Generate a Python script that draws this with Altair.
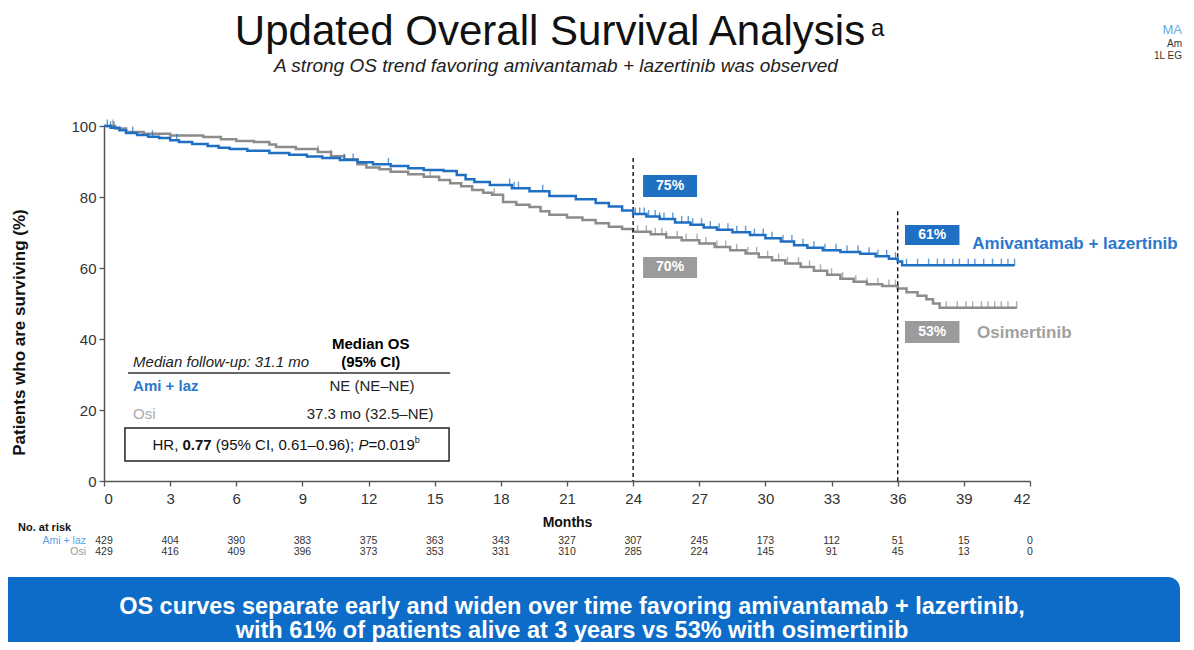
import altair as alt
import pandas as pd

FONT = "Liberation Sans"
BLUE = "#1f6fc2"
GRAY = "#8c8c8c"

# ---------------- data ----------------
ami_t = [0, 0.3, 0.7, 1.0, 1.5, 2.0, 2.5, 3.0, 3.4, 4.0, 4.7, 5.2, 5.7, 6.5, 7.5, 8.4, 9.2, 9.9,
         10.7, 11.5, 12.2, 13.0, 13.8, 14.5, 15.4, 16.0, 16.4, 16.8, 17.5, 18.5, 19.3, 20.2, 21.4,
         22.3, 22.9, 23.5, 24.0, 24.6, 25.2, 25.9, 26.6, 27.2, 27.8, 28.5, 29.3, 30.0, 30.7, 31.3,
         31.9, 32.6, 33.4, 34.3, 35.0, 35.6, 36.0, 36.2, 41.3]
ami_s = [100, 99.5, 98.8, 98.0, 97.5, 97.0, 96.6, 96.0, 95.5, 94.9, 94.4, 93.9, 93.5, 93.0, 92.4,
         91.9, 91.4, 91.0, 90.4, 89.8, 89.2, 88.7, 88.1, 87.6, 87.3, 86.2, 85.0, 84.2, 83.4, 82.5,
         81.6, 80.3, 79.4, 78.3, 77.3, 76.2, 75.2, 74.5, 73.8, 72.8, 72.2, 71.4, 70.8, 70.1, 69.3,
         68.4, 67.5, 66.4, 65.7, 65.0, 64.5, 64.0, 63.3, 62.6, 61.8, 60.8, 60.8]

osi_t = [0, 0.5, 1.0, 1.8, 3.0, 4.5, 5.3, 6.0, 6.8, 7.5, 7.8, 8.7, 9.7, 10.3, 10.9, 11.5, 11.9,
         12.5, 13.0, 13.8, 14.5, 15.2, 15.7, 16.2, 16.7, 17.2, 17.6, 18.1, 18.7, 19.3, 19.8, 20.2,
         21.0, 21.7, 22.3, 22.9, 23.5, 24.0, 24.8, 25.5, 26.2, 27.0, 27.7, 28.4, 29.1, 29.7, 30.3,
         30.9, 31.6, 32.2, 32.8, 33.4, 34.0, 34.6, 35.3, 36.0, 36.4, 36.9, 37.3, 37.6, 37.9, 41.4]
osi_s = [100, 99.3, 98.3, 97.8, 97.3, 96.9, 96.3, 95.8, 95.5, 94.8, 94.1, 93.5, 92.7, 91.5, 90.6,
         89.2, 88.3, 87.8, 87.1, 86.4, 85.7, 84.8, 83.9, 83.0, 82.0, 81.2, 80.6, 78.6, 77.8, 77.2,
         76.0, 75.0, 74.2, 73.5, 72.6, 71.6, 71.0, 70.2, 69.5, 68.6, 67.8, 66.9, 65.9, 65.0, 64.1,
         63.0, 62.2, 61.3, 60.3, 59.2, 58.1, 57.0, 56.1, 55.4, 54.9, 54.2, 53.2, 52.2, 51.2, 50.0,
         48.8, 48.8]

ami_cens = [0.15, 0.3, 0.45, 1.3, 2.2, 3.3, 10.9, 11.3, 12.9, 18.4, 18.6, 18.8, 19.9, 24.1, 24.3,
            24.5, 24.7, 25.0, 25.2, 25.4, 25.8, 26.2, 26.5, 26.7, 27.1, 27.5, 27.9, 28.3, 28.7,
            29.1, 29.5, 29.9, 30.3, 30.8, 31.2, 31.7, 32.2, 32.7, 33.2, 33.7, 34.2, 34.7, 35.1,
            35.5, 35.9, 36.4, 36.9, 37.4, 37.8, 38.1, 38.5, 38.8, 39.2, 39.5, 39.9, 40.3, 40.7,
            41.0, 41.3]
osi_cens = [0.4, 9.7, 10.3, 13.0, 14.8, 17.7, 24.2, 24.6, 25.0, 25.3, 25.5, 26.0, 26.4, 26.9,
            27.3, 27.8, 28.2, 28.7, 29.2, 29.6, 30.1, 30.6, 31.0, 31.5, 32.0, 32.5, 33.0, 33.5,
            34.1, 34.6, 35.1, 35.6, 35.9, 38.2, 38.7, 39.1, 39.4, 39.8, 40.1, 40.4, 40.7, 41.0,
            41.4]

month_ticks = [0, 3, 6, 9, 12, 15, 18, 21, 24, 27, 30, 33, 36, 39, 42]
pct_ticks = [0, 20, 40, 60, 80, 100]
ami_risk = [429, 404, 390, 383, 375, 363, 343, 327, 307, 245, 173, 112, 51, 15, 0]
osi_risk = [429, 416, 409, 396, 373, 353, 331, 310, 285, 224, 145, 91, 45, 13, 0]

landmark_months = [24, 36]
landmark_top = [91, 76]

pct_text = ["75%", "70%", "61%", "53%"]
pct_x = [24.45, 24.45, 36.33, 36.33]
pct_x2 = [26.9, 26.9, 38.8, 38.8]
pct_y = [86.2, 63.1, 72.1, 45.1]
pct_y2 = [80.0, 57.2, 66.5, 38.9]
pct_arm = ["Ami", "Osi", "Ami", "Osi"]

# ---------------- scales / axes / helpers ----------------
xs = alt.Scale(domain=[0, 42], nice=False, zero=False)
ys = alt.Scale(domain=[0, 100], nice=False)
arm_color = alt.Scale(domain=["Ami", "Osi"], range=[BLUE, "#9b9b9b"])

axis_common = dict(domainColor="#555", domainWidth=1.5, tickColor="#555", tickWidth=1.3,
                   tickSize=5, labelFont=FONT, labelFontSize=15, labelColor="#333", grid=False,
                   titleFont=FONT, titleColor="#111", titleFontWeight="bold")
x_axis = alt.Axis(values=month_ticks, title="Months", labelPadding=5, titleFontSize=14,
                  titleY=34, **axis_common)
y_axis = alt.Axis(values=pct_ticks, title="Patients who are surviving (%)", labelPadding=3,
                  titleFontSize=17, titleX=-76, titleY=206, **axis_common)


def X(f):
    return alt.X(f, type="quantitative", scale=xs, axis=x_axis)


def Y(f):
    return alt.Y(f, type="quantitative", scale=ys, axis=y_axis)


one = pd.DataFrame({"k": [0]})


def ptxt(s, x, y, size, color="#000", weight="normal", style="normal", align="left",
         baseline="middle", font=FONT):
    return alt.Chart(one).mark_text(text=s, fontSize=size, color=color, fontWeight=weight,
                                    fontStyle=style, align=align, baseline=baseline,
                                    font=font).encode(x=alt.value(x), y=alt.value(y))


def dtxt(s, mx, my, size, color="#000", weight="normal", style="normal", align="left", dx=0,
         dy=0):
    df = pd.DataFrame({"x": [mx], "y": [my]})
    return alt.Chart(df).mark_text(text=s, fontSize=size, color=color, fontWeight=weight,
                                   fontStyle=style, align=align, baseline="middle", font=FONT,
                                   dx=dx, dy=dy).encode(x=X("x"), y=Y("y"))


# ---------------- curves ----------------
ami_df = pd.DataFrame({"t": ami_t, "s": ami_s})
osi_df = pd.DataFrame({"t": osi_t, "s": osi_s})

osi_line = alt.Chart(osi_df).mark_line(interpolate="step-after", strokeWidth=2.5,
                                       color=GRAY).encode(x=X("t"), y=Y("s"))
ami_line = alt.Chart(ami_df).mark_line(interpolate="step-after", strokeWidth=2.5,
                                       color=BLUE).encode(x=X("t"), y=Y("s"))


def cens_df(times, km):
    c = pd.DataFrame({"t": sorted(times)})
    return pd.merge_asof(c, km.sort_values("t"), on="t", direction="backward")


osi_ticks = alt.Chart(cens_df(osi_cens, osi_df)).mark_tick(
    orient="vertical", size=7, thickness=1.4, color=GRAY, yOffset=-3).encode(x=X("t"), y=Y("s"))
ami_ticks = alt.Chart(cens_df(ami_cens, ami_df)).mark_tick(
    orient="vertical", size=7, thickness=1.4, color=BLUE, yOffset=-3).encode(x=X("t"), y=Y("s"))

land = pd.DataFrame({"x": landmark_months, "top": landmark_top, "bot": [0, 0]})
landmarks = alt.Chart(land).mark_rule(color="#111", strokeWidth=1.4, strokeDash=[4, 3]).encode(
    x=X("x"), y=Y("top"), y2="bot")

pct = pd.DataFrame({"x": pct_x, "x2": pct_x2, "y": pct_y, "y2": pct_y2, "text": pct_text,
                    "arm": pct_arm})
pct["cx"] = [(a + b) / 2 for a, b in zip(pct_x, pct_x2)]
pct["cy"] = [(a + b) / 2 for a, b in zip(pct_y, pct_y2)]
pct_boxes = alt.Chart(pct).mark_rect().encode(
    x=X("x"), x2="x2", y=Y("y"), y2="y2",
    color=alt.Color("arm:N", scale=arm_color, legend=None))
pct_labels = alt.Chart(pct).mark_text(font=FONT, fontSize=14, fontWeight="bold",
                                      color="white").encode(x=X("cx"), y=Y("cy"), text="text:N")

arm_labels = [
    dtxt("Amivantamab + lazertinib", 39.38, 66.8, 17, color="#2a78cc", weight="bold"),
    dtxt("Osimertinib", 39.6, 41.7, 17, color="#a0a0a0", weight="bold"),
]

# ---------------- median OS box ----------------
legend_line = alt.Chart(pd.DataFrame({"x": [1.09], "x2": [15.7], "y": [30.4]})).mark_rule(
    color="#333", strokeWidth=1.5).encode(x=X("x"), x2="x2", y=Y("y"))
hr_box = alt.Chart(pd.DataFrame({"x": [0.95], "x2": [15.65], "y": [14.9], "y2": [5.6]})).mark_rect(
    fill="white", stroke="#222", strokeWidth=1.5).encode(x=X("x"), x2="x2", y=Y("y"), y2="y2")

legend_texts = [
    dtxt("Median OS", 12.1, 38.6, 15, weight="bold", align="center"),
    dtxt("(95% CI)", 12.1, 33.5, 15, weight="bold", align="center"),
    dtxt("Median follow-up: 31.1 mo", 1.32, 33.5, 15, style="italic", color="#222"),
    dtxt("Ami + laz", 1.32, 26.8, 15, weight="bold", color="#2a78cc"),
    dtxt("NE (NE\u2013NE)", 12.15, 26.8, 15, align="center", color="#222"),
    dtxt("Osi", 1.32, 18.9, 15, color="#aaaaaa"),
    dtxt("37.3 mo (32.5\u2013NE)", 12.07, 18.9, 15, align="center", color="#222"),
]

W = {'H': 722, 'R': 722, ',': 278, ' ': 278, '(': 333, ')': 333, '%': 889, 'C': 722, 'I': 278,
     '.': 278, '\u2013': 556, ';': 278, 'P': 667, '=': 584, 'b': 556}


def tw(s, size):
    return sum(W.get(ch, 556) for ch in s) * size / 1000.0


HR_SIZE = 15
segments = [("HR, ", "normal", "normal", HR_SIZE, 0),
            ("0.77", "bold", "normal", HR_SIZE, 0),
            (" (95% CI, 0.61\u20130.96); ", "normal", "normal", HR_SIZE, 0),
            ("P", "normal", "italic", HR_SIZE, 0),
            ("=0.019", "normal", "normal", HR_SIZE, 0),
            ("b", "normal", "normal", 9, -5)]
hr_layers = []
off = 0.0
for s, wt, st, sz, dy in segments:
    lead = len(s) - len(s.lstrip(" "))
    hr_layers.append(dtxt(s.strip(" "), 2.2, 10.1, sz, weight=wt, style=st, color="#111",
                          dx=off + lead * 278 * sz / 1000.0, dy=dy))
    off += tw(s, sz)

# ---------------- number at risk ----------------
risk = pd.DataFrame({"m": month_ticks, "ami": ami_risk, "osi": osi_risk})
risk_ami = alt.Chart(risk).mark_text(font=FONT, fontSize=10.5, color="#333").encode(
    x=X("m"), y=alt.value(415), text="ami:Q")
risk_osi = alt.Chart(risk).mark_text(font=FONT, fontSize=10.5, color="#333").encode(
    x=X("m"), y=alt.value(426), text="osi:Q")
risk_heads = [
    ptxt("No. at risk", -86, 402, 11, weight="bold", color="#111"),
    ptxt("Ami + laz", -18, 415, 10.5, color="#5aa2e2", align="right"),
    ptxt("Osi", -18, 426, 10.5, color="#999", align="right"),
]

# ---------------- titles / banner ----------------
titles = [
    ptxt("Updated Overall Survival Analysis", 446, -81, 42, align="center",
         baseline="alphabetic", color="#111"),
    ptxt("a", 767, -90, 24, baseline="alphabetic", color="#111"),
    ptxt("A strong OS trend favoring amivantamab + lazertinib was observed", 452, -54, 19,
         style="italic", align="center", baseline="alphabetic", color="#222"),
    ptxt("MA", 1078, -92, 13, color="#6aaae0", baseline="alphabetic", align="right"),
    ptxt("Am", 1078, -79, 10, color="#333", baseline="alphabetic", align="right"),
    ptxt("1L EG", 1078, -67, 10, color="#333", baseline="alphabetic", align="right"),
]

banner = alt.Chart(one).mark_rect(color="#0c6cc8", cornerRadiusTopRight=12,
                                  cornerRadiusBottomRight=12).encode(
    x=alt.value(-96), x2=alt.value(1076), y=alt.value(451), y2=alt.value(545))
banner_text = [
    ptxt("OS curves separate early and widen over time favoring amivantamab + lazertinib,",
         468, 481, 23.5, color="white", weight="bold", align="center"),
    ptxt("with 61% of patients alive at 3 years vs 53% with osimertinib",
         468, 505, 23.5, color="white", weight="bold", align="center"),
]

chart = alt.layer(
    osi_line, landmarks, legend_line, hr_box, osi_ticks, ami_line, ami_ticks,
    pct_boxes, pct_labels, *arm_labels, *legend_texts, *hr_layers,
    risk_ami, risk_osi, *risk_heads, *titles, banner, *banner_text,
).properties(
    width=926, height=355,
    autosize=alt.AutoSizeParams(type="none"),
    padding={"left": 96, "top": 118, "right": 156, "bottom": 161},
).configure_view(stroke=None)

chart.save("out.html", embed_options={"renderer": "svg", "actions": False})
